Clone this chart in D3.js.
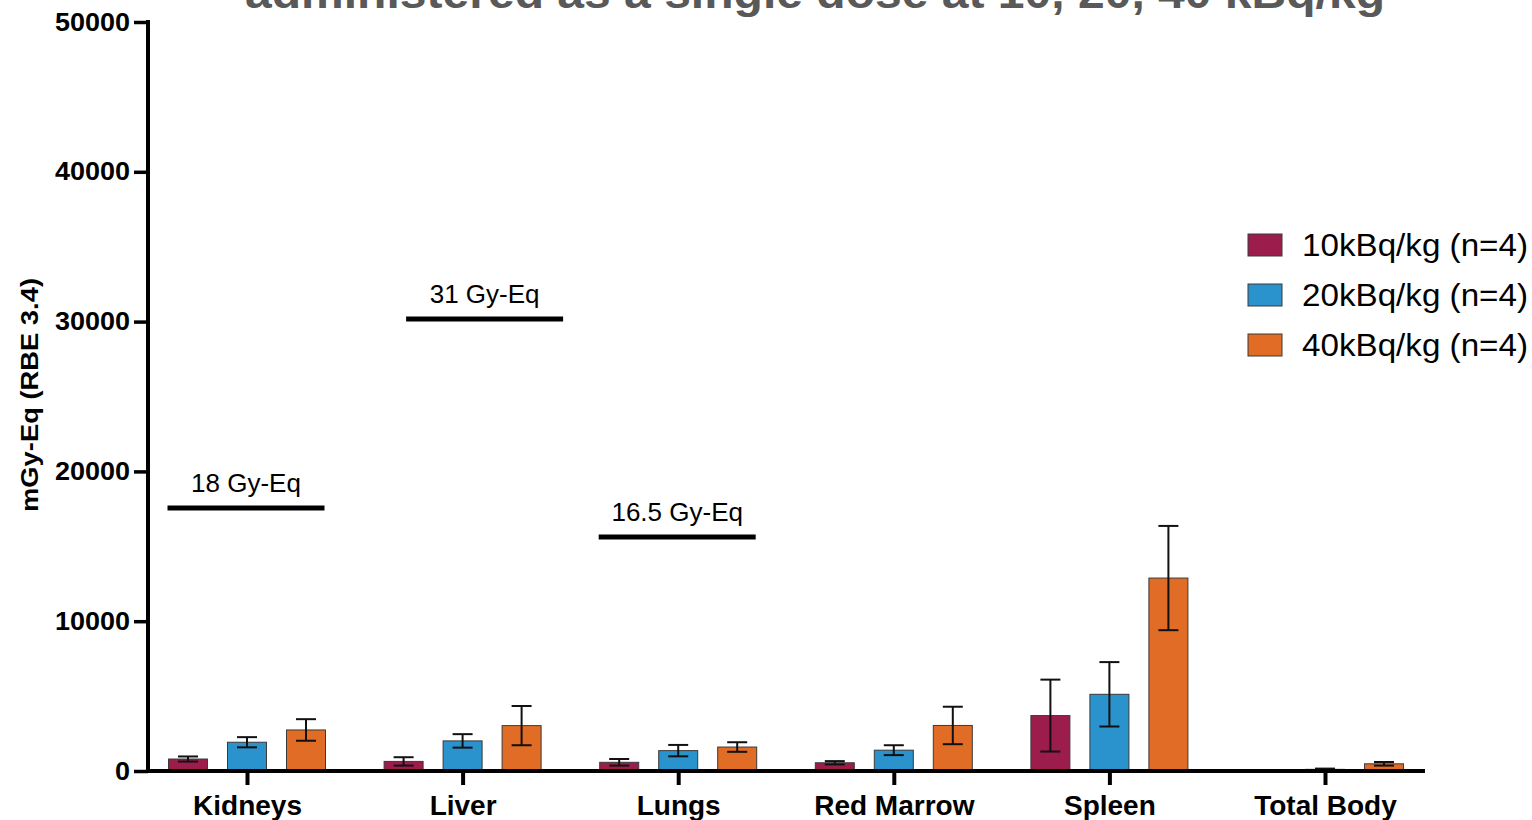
<!doctype html>
<html>
<head>
  <script src="https://cdnjs.cloudflare.com/ajax/libs/d3/7.8.5/d3.min.js" type="text/JavaScript"></script>
  <style>
    body { margin: 0; background: #fff; }
    text { font-family: "Liberation Sans", Arial, sans-serif; }
  </style>
</head>
<body>
<div id="viz">
<svg style="width:1532px;height:820px;display:block;"></svg>
</div>
<script type="text/javascript">
// organs on the x axis
var organs = ["Kidneys", "Liver", "Lungs", "Red Marrow", "Spleen", "Total Body"];
var doses = ["10kBq/kg (n=4)", "20kBq/kg (n=4)", "40kBq/kg (n=4)"];
// mean absorbed dose, mGy-Eq
var mean10 = [800, 640, 580, 550, 3700, 30];
var mean20 = [1920, 2010, 1360, 1390, 5120, 110];
var mean40 = [2740, 3030, 1600, 3040, 12880, 480];
// error (+/-)
var err10 = [170, 280, 220, 110, 2400, 10];
var err20 = [340, 450, 380, 330, 2150, 50];
var err40 = [720, 1310, 320, 1250, 3480, 120];
var yTicks = [0, 10000, 20000, 30000, 40000, 50000];
// tolerance limits drawn as horizontal lines
var limitOrgans = ["Kidneys", "Liver", "Lungs"];
var limitValues = [17550, 30170, 15620];
var limitLabels = ["18 Gy-Eq", "31 Gy-Eq", "16.5 Gy-Eq"];

var colors = ["#9C1C4C", "#2A92CD", "#E06C25"];
var means = [mean10, mean20, mean40];
var errs = [err10, err20, err40];
var FONT = "'Liberation Sans', Arial, sans-serif";

var svg = d3.select("svg");

xScale = d3.scalePoint().domain(organs).range([247, 1325]);
gScale = d3.scaleBand().domain(doses).range([-78.5, 78.5]).paddingInner(0.339);
yScale = d3.scaleLinear().domain([0, 50000]).range([771, 22]);

// title (top is cropped in the original)
svg.append("text")
   .attr("x", 815).attr("y", 8)
   .attr("text-anchor", "middle")
   .attr("textLength", 1140).attr("lengthAdjust", "spacingAndGlyphs")
   .style("font-size", "44px").style("font-weight", "bold")
   .style("fill", "#595959")
   .text("administered as a single dose at 10, 20, 40 kBq/kg");

// bars
var rows = [];
organs.forEach(function(o, i) {
  doses.forEach(function(d, j) {
    rows.push({organ: o, dose: d, k: j, v: means[j][i], e: errs[j][i]});
  });
});

var bars = svg.append("g");
bars.selectAll("rect")
    .data(rows)
    .enter()
    .append("rect")
    .attr("x", d => xScale(d.organ) + gScale(d.dose))
    .attr("width", gScale.bandwidth())
    .attr("y", d => yScale(d.v))
    .attr("height", d => yScale(0) - yScale(d.v))
    .style("fill", d => colors[d.k])
    .style("stroke", "#3a3a3a")
    .style("stroke-width", 1);

// error bars
var eb = svg.append("g").style("stroke", "#111").style("stroke-width", 2);
rows.forEach(function(d) {
  var cx = xScale(d.organ) + gScale(d.dose) + gScale.bandwidth() / 2;
  var y1 = yScale(d.v + d.e), y0 = yScale(Math.max(0, d.v - d.e));
  eb.append("line").attr("x1", cx).attr("x2", cx).attr("y1", y1).attr("y2", y0);
  eb.append("line").attr("x1", cx - 10).attr("x2", cx + 10).attr("y1", y1).attr("y2", y1);
  eb.append("line").attr("x1", cx - 10).attr("x2", cx + 10).attr("y1", y0).attr("y2", y0);
});

// limit lines
var limitShift = {"Liver": 23};
var lim = svg.append("g");
limitOrgans.forEach(function(o, i) {
  var c = xScale(o) - 1 + (limitShift[o] || 0);
  var r = gScale.range();
  lim.append("line")
     .attr("x1", c + r[0]).attr("x2", c + r[1])
     .attr("y1", yScale(limitValues[i])).attr("y2", yScale(limitValues[i]))
     .style("stroke", "#000").style("stroke-width", 5);
  lim.append("text")
     .attr("x", c).attr("y", yScale(limitValues[i]) - 16)
     .attr("text-anchor", "middle")
     .style("font-size", "26px")
     .text(limitLabels[i]);
});

// y axis
yAxis = d3.axisLeft(yScale).tickValues(yTicks).tickSize(14).tickPadding(4).tickFormat(d3.format("d"));
var yg = svg.append("g").attr("transform", "translate(148,0)").call(yAxis);
yg.select(".domain").attr("d", "M0,20V773").style("stroke", "#000").style("stroke-width", 4);
yg.selectAll(".tick line").style("stroke", "#000").style("stroke-width", 3.5);
yg.selectAll(".tick text")
  .style("font-size", "25px").style("font-weight", "bold")
  .style("font-family", FONT)
  .style("fill", "#000")
  .attr("textLength", function(d) { return String(d).length * 15; })
  .attr("lengthAdjust", "spacingAndGlyphs");

// x axis
xAxis = d3.axisBottom(xScale).tickSize(14).tickPadding(10);
var xg = svg.append("g").attr("transform", "translate(0,771)").call(xAxis);
xg.select(".domain").attr("d", "M146,0H1425").style("stroke", "#000").style("stroke-width", 4);
xg.selectAll(".tick line").style("stroke", "#000").style("stroke-width", 4);
xg.selectAll(".tick text")
  .style("font-size", "28px").style("font-weight", "bold")
  .style("font-family", FONT)
  .style("fill", "#000");

// y title
svg.append("text")
   .attr("transform", "translate(38,395) rotate(-90)")
   .attr("text-anchor", "middle")
   .attr("textLength", 234).attr("lengthAdjust", "spacingAndGlyphs")
   .style("font-size", "23px").style("font-weight", "bold")
   .text("mGy-Eq (RBE 3.4)");

// legend
var leg = svg.append("g").attr("transform", "translate(1248,0)");
doses.forEach(function(d, j) {
  var cy = 245 + j * 50;
  leg.append("rect").attr("x", 0).attr("y", cy - 11).attr("width", 34).attr("height", 22)
     .style("fill", colors[j]).style("stroke", "#3a3a3a").style("stroke-width", 1);
  leg.append("text").attr("x", 54).attr("y", cy + 11)
     .attr("textLength", 226).attr("lengthAdjust", "spacingAndGlyphs")
     .style("font-size", "31px")
     .text(d);
});
</script>
</body>
</html>
